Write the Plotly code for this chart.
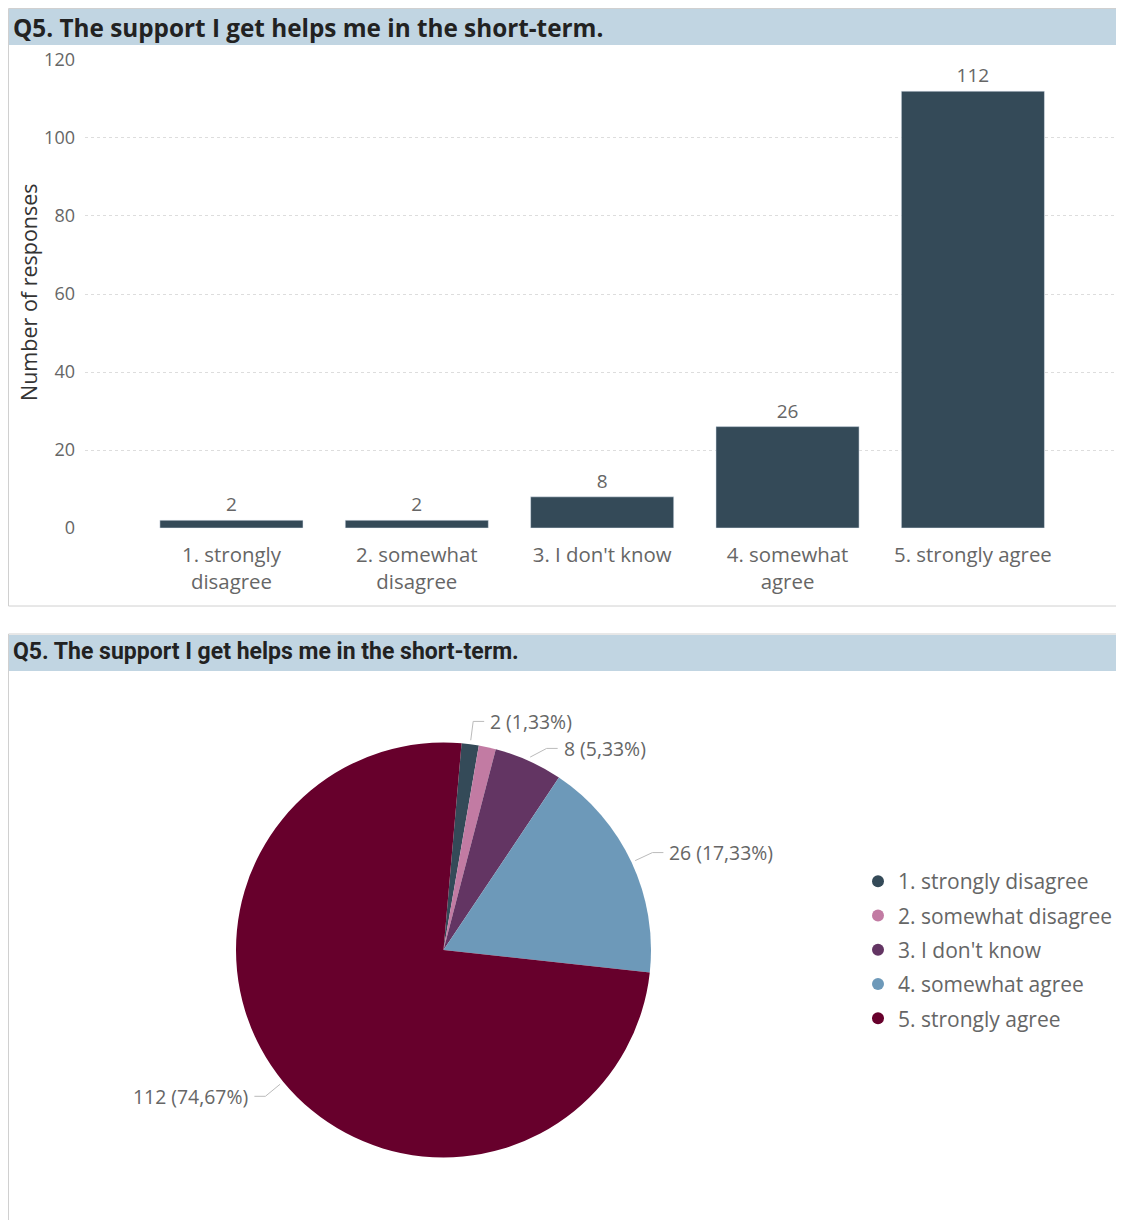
import math
import plotly.graph_objects as go

# ---------------- data ----------------
categories = ["1. strongly disagree", "2. somewhat disagree", "3. I don't know",
              "4. somewhat agree", "5. strongly agree"]
bar_tick_labels = ["1. strongly<br>disagree", "2. somewhat<br>disagree", "3. I don't know",
                   "4. somewhat<br>agree", "5. strongly agree"]
responses = [2, 2, 8, 26, 112]
y_ticks = [0, 20, 40, 60, 80, 100, 120]
title_text = "Q5. The support I get helps me in the short-term."
y_title = "Number of responses"
pie_label_shown = [True, False, True, True, True]

# ---------------- style ----------------
bar_color = "#344A58"
pie_colors = ["#344A58", "#C27BA3", "#633563", "#6D99B9", "#67002C"]
header_fill = "#C1D5E2"
text_gray = "#666666"
# page body has an 8px margin; figure fills the rest of the 1124x1228 window
OFF_X, OFF_Y = 8, 8
W, H = 1124 - 16, 1228 - 16


def px(x):
    return (x - OFF_X) / W


def py(y):
    return 1 - (y - OFF_Y) / H


fig = go.Figure()

# bar chart
fig.add_trace(go.Bar(
    x=bar_tick_labels, y=responses, marker_color=bar_color,
    text=responses, textposition="outside", cliponaxis=False,
    textfont=dict(size=19, color=text_gray, family="Open Sans"),
    showlegend=False, hoverinfo="skip",
    xaxis="x", yaxis="y",
))

# pie chart
pie_x0, pie_x1 = 236, 651
pie_y0, pie_y1 = 742.5, 1157.5
rotation = 5
fig.add_trace(go.Pie(
    labels=categories, values=responses, marker=dict(colors=pie_colors),
    sort=False, direction="clockwise", rotation=rotation,
    textinfo="none", showlegend=False, hoverinfo="skip", automargin=False,
    domain=dict(x=[px(pie_x0), px(pie_x1)], y=[py(pie_y1), py(pie_y0)]),
))

# legend entries (circle markers)
for name, col in zip(categories, pie_colors):
    fig.add_trace(go.Scatter(
        x=[None], y=[None], mode="markers", name=name, legendgroup=name,
        marker=dict(symbol="circle", size=12, color=col),
        xaxis="x", yaxis="y",
    ))

shapes = []
annotations = []

# panels and headers (right/bottom edges run past the page edge, as in the original)
shapes.append(dict(type="rect", xref="paper", yref="paper",
                   x0=px(8.5), x1=px(1140), y0=py(606), y1=py(8.5),
                   line=dict(color="#D0D0D0", width=1), fillcolor="rgba(0,0,0,0)", layer="below"))
shapes.append(dict(type="rect", xref="paper", yref="paper",
                   x0=px(9), x1=px(1140), y0=py(45), y1=py(9),
                   line=dict(width=0), fillcolor=header_fill, layer="below"))
shapes.append(dict(type="rect", xref="paper", yref="paper",
                   x0=px(8.5), x1=px(1140), y0=py(1260), y1=py(634),
                   line=dict(color="#D0D0D0", width=1), fillcolor="rgba(0,0,0,0)", layer="below"))
shapes.append(dict(type="rect", xref="paper", yref="paper",
                   x0=px(9), x1=px(1140), y0=py(671), y1=py(635),
                   line=dict(width=0), fillcolor=header_fill, layer="below"))

annotations.append(dict(text="<b>" + title_text + "</b>", xref="paper", yref="paper",
                        x=px(11), y=py(27), xanchor="left", yanchor="middle", showarrow=False,
                        font=dict(family="Open Sans", size=24.3, color="#222222")))
annotations.append(dict(text="<b>" + title_text + "</b>", xref="paper", yref="paper",
                        x=px(11), y=py(651), xanchor="left", yanchor="middle", showarrow=False,
                        font=dict(family="Roboto", size=23, color="#222222")))
annotations.append(dict(text=y_title, xref="paper", yref="paper",
                        x=px(28), y=py(292), xanchor="center", yanchor="middle", showarrow=False,
                        textangle=-90, font=dict(family="Open Sans", size=21.5, color="#333333")))

# pie labels with leader lines, computed from slice angles
cx, cy = (pie_x0 + pie_x1) / 2, (pie_y0 + pie_y1) / 2
R = (pie_x1 - pie_x0) / 2
total = sum(responses)
min_gap = 27
last_y = {1: None, -1: None}
cum = 0
for v, show in zip(responses, pie_label_shown):
    start = rotation + cum / total * 360
    cum += v
    end = rotation + cum / total * 360
    if not show:
        continue
    mid = math.radians((start + end) / 2)
    sx, sy = cx + (R + 4) * math.sin(mid), cy - (R + 4) * math.cos(mid)
    ex, ey = cx + (R + 23) * math.sin(mid), cy - (R + 23) * math.cos(mid)
    side = 1 if math.sin(mid) >= 0 else -1
    prev = last_y[side]
    if prev is not None and side > 0 and ey - prev < min_gap:
        push = prev + min_gap - ey
        ey += push
        ex += side * push
    last_y[side] = ey
    hx = ex + side * 11
    shapes.append(dict(type="path", xref="paper", yref="paper",
                       path=f"M {px(sx)},{py(sy)} L {px(ex)},{py(ey)} L {px(hx)},{py(ey)}",
                       line=dict(color="#BBBBBB", width=1)))
    pct = f"{v / total * 100:.2f}".replace(".", ",")
    annotations.append(dict(text=f"{v} ({pct}%)", xref="paper", yref="paper",
                            x=px(hx + side * 4), y=py(ey), showarrow=False,
                            xanchor="left" if side > 0 else "right", yanchor="middle",
                            font=dict(family="Open Sans", size=19.4, color=text_gray)))

fig.update_layout(
    width=W, height=H,
    margin=dict(l=0, r=0, t=0, b=0, pad=0, autoexpand=False),
    paper_bgcolor="white", plot_bgcolor="white",
    bargap=0.228,
    font=dict(family="Open Sans", color=text_gray),
    xaxis=dict(domain=[px(85), 1.0], range=[-0.79, 4.772], anchor="y",
               showgrid=False, showline=False, zeroline=False, ticks="",
               ticklabelstandoff=12, automargin=False,
               tickfont=dict(size=20.4, color=text_gray, family="Open Sans"),
               fixedrange=True),
    yaxis=dict(domain=[py(528.8), py(59.2)], range=[-0.2, 120.2], anchor="x",
               tickvals=y_ticks, showgrid=True, gridcolor="#DDDDDD", griddash="dot",
               gridwidth=1, zeroline=False, showline=False, ticks="",
               ticklabelstandoff=9, automargin=False,
               tickfont=dict(size=18, color=text_gray, family="Open Sans"),
               fixedrange=True),
    legend=dict(x=px(858), y=py(861), xanchor="left", yanchor="top",
                font=dict(size=21, color=text_gray, family="Open Sans"),
                tracegroupgap=4, itemwidth=30, bgcolor="rgba(0,0,0,0)"),
    shapes=shapes, annotations=annotations,
)

fig.write_html("out.html")
